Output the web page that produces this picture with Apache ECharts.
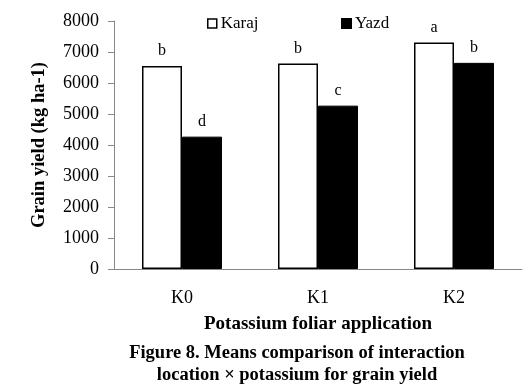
<!DOCTYPE html>
<html><head><meta charset="utf-8">
<script src="https://cdn.jsdelivr.net/npm/echarts@6/dist/echarts.min.js"></script>
<style>html,body{margin:0;padding:0;background:#fff}#c{width:532px;height:392px}</style>
</head><body><div id="c"></div>
<script>
const categories = ['K0', 'K1', 'K2'];
const karaj = [6550, 6630, 7310];
const yazd = [4270, 5270, 6650];
const karajLetters = ['b', 'b', 'a'];
const yazdLetters = ['d', 'c', 'b'];
const yTicks = [0, 1000, 2000, 3000, 4000, 5000, 6000, 7000, 8000];

const font = 'Liberation Serif';
const chart = echarts.init(document.getElementById('c'));
chart.setOption({
  animation: false,
  backgroundColor: '#fff',
  grid: { left: 114, right: 10, top: 21, bottom: 123 },
  legend: [
    { data: [{ name: 'Karaj', icon: 'rect', itemStyle: { color: '#fff', borderColor: '#000', borderWidth: 1.5 } }],
      left: 202, top: 10, itemWidth: 9, itemHeight: 9, itemGap: 4,
      textStyle: { fontFamily: font, fontSize: 17, color: '#000', padding: [0, 0, 0, -1] } },
    { data: [{ name: 'Yazd', icon: 'rect', itemStyle: { color: '#000' } }],
      left: 336, top: 10, itemWidth: 9, itemHeight: 9, itemGap: 4,
      textStyle: { fontFamily: font, fontSize: 17, color: '#000', padding: [0, 0, 0, -1] } }
  ],
  graphic: [
    { type: 'text', x: 297, y: 353, style: { text: 'Figure 8. Means comparison of interaction',
      fontFamily: font, fontWeight: 'bold', fontSize: 18.5, fill: '#000', align: 'center', verticalAlign: 'middle' } },
    { type: 'text', x: 297, y: 375, style: { text: 'location \u00d7 potassium for grain yield',
      fontFamily: font, fontWeight: 'bold', fontSize: 18.5, fill: '#000', align: 'center', verticalAlign: 'middle' } },
    { type: 'text', x: 39, y: 145, rotation: Math.PI / 2,
      style: { text: 'Grain yield (kg ha-1)', fontFamily: font, fontWeight: 'bold', fontSize: 18.5,
        fill: '#000', align: 'center', verticalAlign: 'middle' } }
  ],
  xAxis: {
    type: 'category', data: categories,
    name: 'Potassium foliar application', nameLocation: 'middle', nameGap: 46,
    nameTextStyle: { fontFamily: font, fontWeight: 'bold', fontSize: 19, color: '#000' },
    axisLine: { lineStyle: { color: '#888', width: 1 } },
    axisTick: { lineStyle: { color: '#888' }, length: 6 },
    axisLabel: { fontFamily: font, fontSize: 18, color: '#000', margin: 20 }
  },
  yAxis: {
    type: 'value', min: yTicks[0], max: yTicks[yTicks.length - 1], interval: 1000,
    axisLine: { show: true, lineStyle: { color: '#888', width: 1 } },
    axisTick: { show: true, lineStyle: { color: '#888' }, length: 6 },
    splitLine: { show: false },
    axisLabel: { fontFamily: font, fontSize: 18, color: '#000', margin: 15, formatter: v => String(v) }
  },
  series: [
    { name: 'Karaj', type: 'bar', data: karaj, barWidth: 40, barGap: '0%',
      itemStyle: { color: '#fff', borderColor: '#000', borderWidth: 1.5 },
      label: { show: true, position: 'top', distance: 7, fontFamily: font, fontSize: 16, color: '#000',
        formatter: p => karajLetters[p.dataIndex] } },
    { name: 'Yazd', type: 'bar', data: yazd, barWidth: 40, barGap: '0%',
      itemStyle: { color: '#000', borderColor: '#000', borderWidth: 1 },
      label: { show: true, position: 'top', distance: 7, fontFamily: font, fontSize: 16, color: '#000',
        formatter: p => yazdLetters[p.dataIndex] } }
  ]
});
</script></body></html>
